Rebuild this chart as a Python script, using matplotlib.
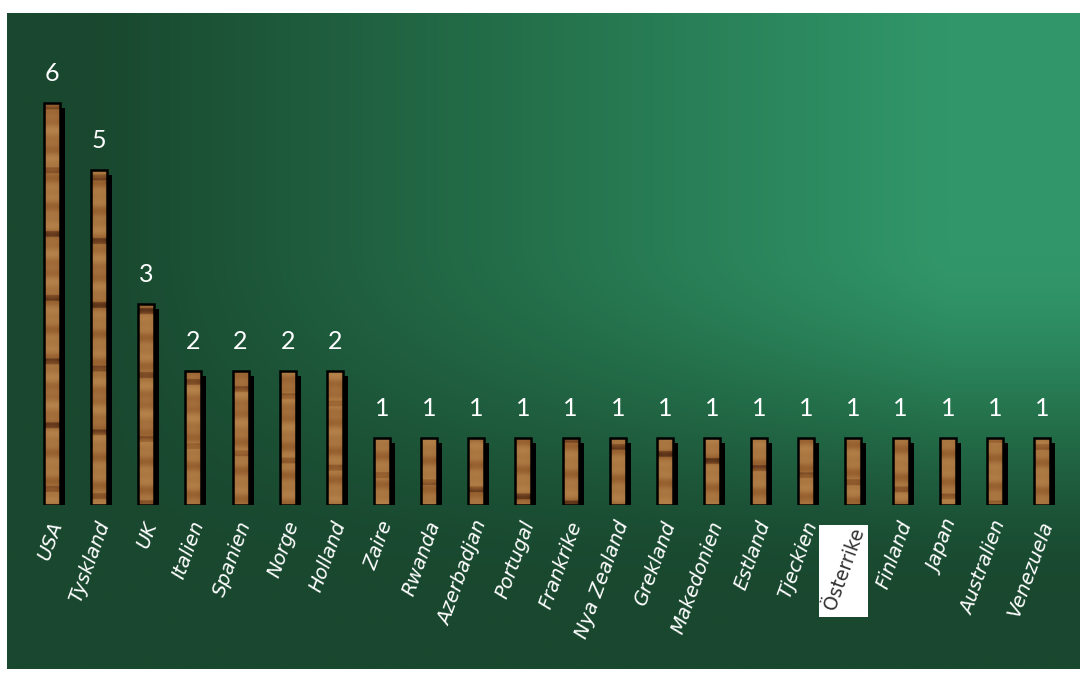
import numpy as np
import matplotlib.pyplot as plt
from matplotlib.patches import Rectangle
from matplotlib.colors import LinearSegmentedColormap

countries = ["USA", "Tyskland", "UK", "Italien", "Spanien", "Norge", "Holland",
             "Zaire", "Rwanda", "Azerbadjan", "Portugal", "Frankrike", "Nya Zealand",
             "Grekland", "Makedonien", "Estland", "Tjeckien", "Österrike", "Finland",
             "Japan", "Australien", "Venezuela"]
values = [6, 5, 3, 2, 2, 2, 2, 1, 1, 1, 1, 1, 1, 1, 1, 1, 1, 1, 1, 1, 1, 1]

W, H = 1082, 675
fig = plt.figure(figsize=(W / 100, H / 100), dpi=100)
fig.patch.set_facecolor("white")


def smooth(a, b, x):
    s = np.clip((x - a) / (b - a), 0, 1)
    return s * s * (3 - 2 * s)


# green background: light towards upper right, dark on the left and at the bottom
bg = fig.add_axes([7 / W, 6 / H, 1073 / W, 656 / H])
uu, vv = np.meshgrid(np.linspace(0, 1, 400), np.linspace(0, 1, 300))
t = np.clip((uu - 0.08) / 0.8, 0, 1) * (1 - smooth(0.35, 0.9, vv))
green = LinearSegmentedColormap.from_list("g", ["#19482f", "#24704b", "#31976a"])
bg.imshow(t, cmap=green, aspect="auto", extent=[0, 1, 0, 1], vmin=0, vmax=1,
          interpolation="bilinear")
bg.axis("off")

# main axes: baseline at y=505px, 67 px per unit
n = len(countries)
step = (1042 - 52) / (n - 1)
ax = fig.add_axes([7 / W, 170 / H, 1073 / W, 492 / H])
ax.set_xlim((7 - 52) / step, (1080 - 52) / step)
ax.set_ylim(0, 492 / 67)
ax.axis("off")

font = ["DejaVu Sans"]
bw = 16 / step
dx = 5 / step
dy = 5 / 67

wood_cmap = LinearSegmentedColormap.from_list(
    "wood", ["#3e200c", "#6e4020", "#96602f", "#a8743f", "#b8844c"])

for i, (c, v) in enumerate(zip(countries, values)):
    x0 = i - bw / 2
    ax.add_patch(Rectangle((x0 + dx, 0), bw, v - dy, facecolor="black",
                           edgecolor="none", zorder=2))
    # wood grain: soft bands plus an occasional dark ring
    yy2 = np.linspace(0, v * 6.0, 300 * v)
    stripe = (0.68 + 0.15 * np.sin(yy2 * 2.3 + i) + 0.08 * np.sin(yy2 * 5.1 + 2 * i)
              - 0.35 * (np.sin(yy2 * 1.1 + i * 0.7) > 0.96))
    xs = np.linspace(0, 1, 12)
    tex = stripe[:, None] + 0.06 * np.sin(xs * 3.14)[None, :]
    im = ax.imshow(tex, cmap=wood_cmap, aspect="auto", vmin=0.0, vmax=1.0,
                   extent=[x0, x0 + bw, 0, v], origin="lower", zorder=3,
                   interpolation="bilinear")
    r = Rectangle((x0, 0), bw, v, facecolor="none", edgecolor="black",
                  linewidth=1.8, zorder=4)
    ax.add_patch(r)
    im.set_clip_path(r)
    ax.text(i, v + 0.27, str(v), color="white", fontsize=18, ha="center",
            va="bottom", family=["Lato", "DejaVu Sans"])
    if c == "Österrike":
        ax.add_patch(Rectangle((i - 0.72, -1.67), 1.02, 1.37, facecolor="white",
                               edgecolor="none", clip_on=False, zorder=5))
        ax.text(i - 0.07, -0.3, c, rotation=70, rotation_mode="anchor", ha="right",
                va="top", fontsize=13.5, color="#333333", family=font, zorder=6)
    else:
        ax.text(i - 0.07, -0.2, c, rotation=70, rotation_mode="anchor", ha="right",
                va="top", fontsize=14, color="white", family=font, style="italic")

fig.savefig("out.png", dpi=100, facecolor="white")
